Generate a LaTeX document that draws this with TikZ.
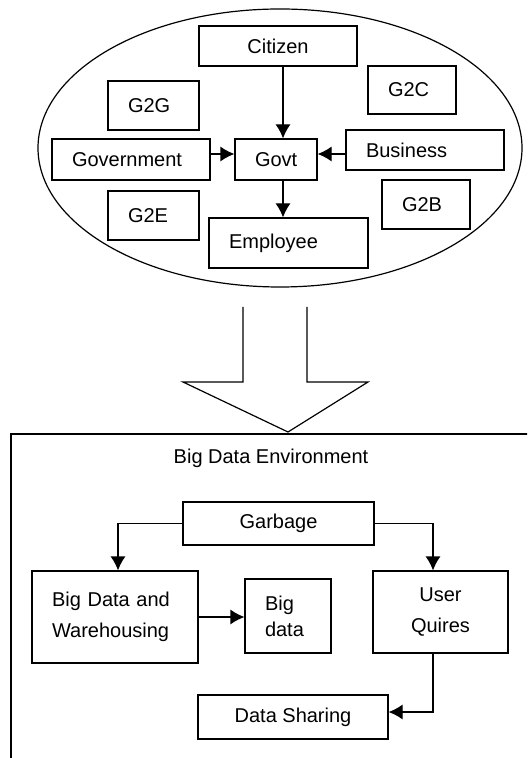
\documentclass[tikz,border=0pt]{standalone}
\usepackage{fontspec}
\setmainfont{Liberation Sans}
\usetikzlibrary{arrows.meta}

\tikzset{
	lbox/.style={draw, align=left, inner xsep=10pt, inner ysep=0pt},
	cbox/.style={draw, align=center, inner sep=0pt},
}

\begin{document}
\begin{tikzpicture}[x=0.5pt, y=-0.5pt, line width=0.6pt, >={Latex[length=7pt,width=7.5pt]}, font=\fontsize{10}{15.5}\selectfont]
		%\draw [help lines] (0,0) grid (527,758);
		\clip (0,0) rectangle (527,758);
		% Govt ellipse
		\draw (280,148) ellipse [x radius=121pt, y radius=69.5pt];
		\node [cbox, minimum width=79pt, minimum height=20pt] (citizen) at (278,46) {Citizen};
		\node [lbox, text width=24pt, minimum height=24pt] (gtc) at (412,90) {G2C};
		\node [lbox, text width=25.5pt, minimum height=24.5pt] (gtg) at (153.5,105.5) {G2G};
		\node [lbox, text width=59pt, minimum height=20.5pt] (government) at (131,159.5) {Government};
		\node [lbox, text width=21pt, minimum height=20.5pt] (govt) at (276,159.5) {Govt};
		\node [lbox, text width=59pt, minimum height=20pt] (business) at (425,150) {Business};
		\node [lbox, text width=25.5pt, minimum height=24.5pt] (gte) at (153.5,215.5) {G2E};
		\node [lbox, text width=24pt, minimum height=24.5pt] (gtb) at (426,204.5) {G2B};
		\node [lbox, text width=59.5pt, minimum height=25pt] (employee) at (288.5,243) {Employee};
		\draw [->] ([xshift=2.5pt]citizen.south) -- ([xshift=2.5pt]citizen.south |- govt.north);
		\draw [->] ([yshift=2.75pt]government.east) -- ([yshift=2.75pt]government.east -| govt.west);
		\draw [->] ([yshift=-2pt]business.west) -- ([yshift=-2pt]business.west -| govt.east);
		\draw [->] ([xshift=3.5pt]govt.south) -- ([xshift=3.5pt]govt.south |- employee.north);
		% Big arrow
		\draw (243,307) -- (243,382) -- (183,382) -- (288,432) -- (368,382) -- (307,382) -- (307,307);
		% Big Data Environment
		\draw (11,434) rectangle (560,800);
		\node (envlabel) at (271,458) {Big Data Environment};
		\node [cbox, minimum width=95.5pt, minimum height=21.5pt] (garbage) at (278.5,523.5) {Garbage};
		\node [lbox, text width=63pt, minimum height=46pt] (bdw) at (115,617) {Big Data and\\Warehousing};
		\node [lbox, text width=23pt, minimum height=37pt, font=\fontsize{10}{13}\selectfont] (bigdata) at (288,616) {Big\\data};
		\node [cbox, minimum width=67.5pt, minimum height=41pt] (userq) at (440.5,612) {User\\Quires};
		\node [cbox, minimum width=95pt, minimum height=22pt] (sharing) at (293,717) {Data Sharing};
		\draw [->] (garbage.west) -| ([xshift=1.5pt]bdw.north);
		\draw [->] (garbage.east) -| ([xshift=-3.75pt]userq.north);
		\draw [->] (bdw.east) -- (bdw.east -| bigdata.west);
		\draw [->] ([xshift=-3.75pt]userq.south) |- ([yshift=2.5pt]sharing.east);
	\end{tikzpicture}
\end{document}
